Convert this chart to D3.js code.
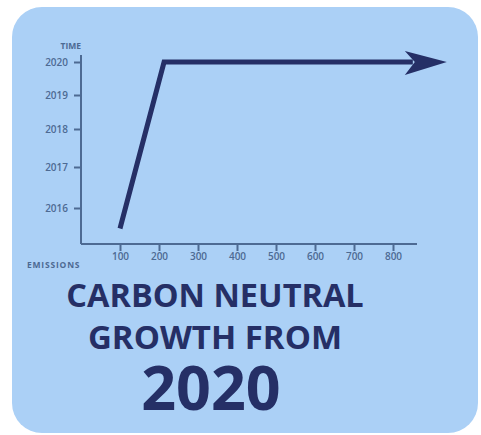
<!DOCTYPE html>
<html>
<head>
<meta charset="utf-8">
<script src="https://cdn.jsdelivr.net/npm/d3@7"></script>
<style>
  body { margin: 0; background: #fff; }
  svg { display: block; }
</style>
</head>
<body>
<svg id="chart"></svg>
<script>
// chart data
var emissions = [100, 213, 938];        // x values of the path
var years = [2015.5, 2020, 2020];       // y values of the path
var yearTicks = [2016, 2017, 2018, 2019, 2020];
var emissionTicks = [100, 200, 300, 400, 500, 600, 700, 800];
var titleLines = ["CARBON NEUTRAL", "GROWTH FROM", "2020"];

var svgWidth = 481, svgHeight = 435;
var navy = "#252f66", axisColor = "#4d6a93";

var svg = d3.select('#chart')
    .attr('width', svgWidth)
    .attr('height', svgHeight);

// light blue card
svg.append('rect')
    .attr('x', 12).attr('y', 7)
    .attr('width', 466).attr('height', 426)
    .attr('rx', 30)
    .attr('fill', '#abd0f6');

var x = d3.scaleLinear().domain([0, 800]).range([81, 393]);
// year spacing in the picture is not even, so use a piecewise scale
var y = d3.scaleLinear().domain(yearTicks).range([208, 167, 129, 95, 62]);

var axisBase = 244;

// y axis
var yAxis = svg.append('g')
    .attr('transform', 'translate(81,0)')
    .call(d3.axisLeft(y).tickValues(yearTicks).tickFormat(d3.format('d')).tickSize(7).tickPadding(6));
yAxis.select('.domain').remove();
yAxis.append('line')
    .attr('x1', 0).attr('x2', 0)
    .attr('y1', 55).attr('y2', axisBase)
    .attr('stroke', axisColor).attr('stroke-width', 2);

// x axis
var xAxis = svg.append('g')
    .attr('transform', 'translate(0,' + axisBase + ')')
    .call(d3.axisBottom(x).tickValues(emissionTicks).tickSize(7).tickPadding(2));
xAxis.select('.domain').remove();
xAxis.append('line')
    .attr('x1', 81).attr('x2', 417)
    .attr('y1', 0).attr('y2', 0)
    .attr('stroke', axisColor).attr('stroke-width', 2);

svg.selectAll('.tick line').attr('stroke', axisColor).attr('stroke-width', 2);
svg.selectAll('.tick text')
    .attr('fill', axisColor)
    .style('font-family', '"Open Sans", sans-serif')
    .style('font-size', '10px')
    .style('font-weight', '600');

// axis names
svg.append('text')
    .attr('x', 81).attr('y', 49)
    .attr('text-anchor', 'end')
    .attr('fill', axisColor)
    .style('font-family', '"Open Sans", sans-serif')
    .style('font-size', '8.5px')
    .style('font-weight', 'bold')
    .text('TIME');
svg.append('text')
    .attr('x', 27).attr('y', 268)
    .attr('fill', axisColor)
    .style('font-family', '"Open Sans", sans-serif')
    .style('font-size', '8.5px')
    .style('font-weight', 'bold')
    .style('letter-spacing', '0.8px')
    .text('EMISSIONS');

// the path, ending in an arrow
var pts = emissions.map(function(d, i) { return [x(d), y(years[i])]; });
var tip = pts[pts.length - 1];
var line = d3.line();
svg.append('path')
    .attr('d', line(pts.slice(0, -1).concat([[tip[0] - 34, tip[1]]])))
    .attr('fill', 'none')
    .attr('stroke', navy)
    .attr('stroke-width', 5)
    .attr('stroke-linejoin', 'miter');

svg.append('path')
    .attr('d', 'M' + tip[0] + ',' + tip[1] +
        'L' + (tip[0] - 42) + ',' + (tip[1] - 11) +
        'L' + (tip[0] - 32) + ',' + tip[1] +
        'L' + (tip[0] - 42) + ',' + (tip[1] + 13) + 'Z')
    .attr('fill', navy);

// title
var titleY = [307, 349, 410];
var titleSize = [32.5, 33, 61];
svg.selectAll('text.title')
    .data(titleLines)
    .enter()
    .append('text')
    .attr('class', 'title')
    .attr('x', function(d, i) { return i == 2 ? 211 : 215; })
    .attr('y', function(d, i) { return titleY[i]; })
    .attr('text-anchor', 'middle')
    .attr('fill', navy)
    .style('font-family', '"Open Sans", sans-serif')
    .style('font-weight', 'bold')
    .style('font-size', function(d, i) { return titleSize[i] + 'px'; })
    .text(function(d) { return d; });
</script>
</body>
</html>
